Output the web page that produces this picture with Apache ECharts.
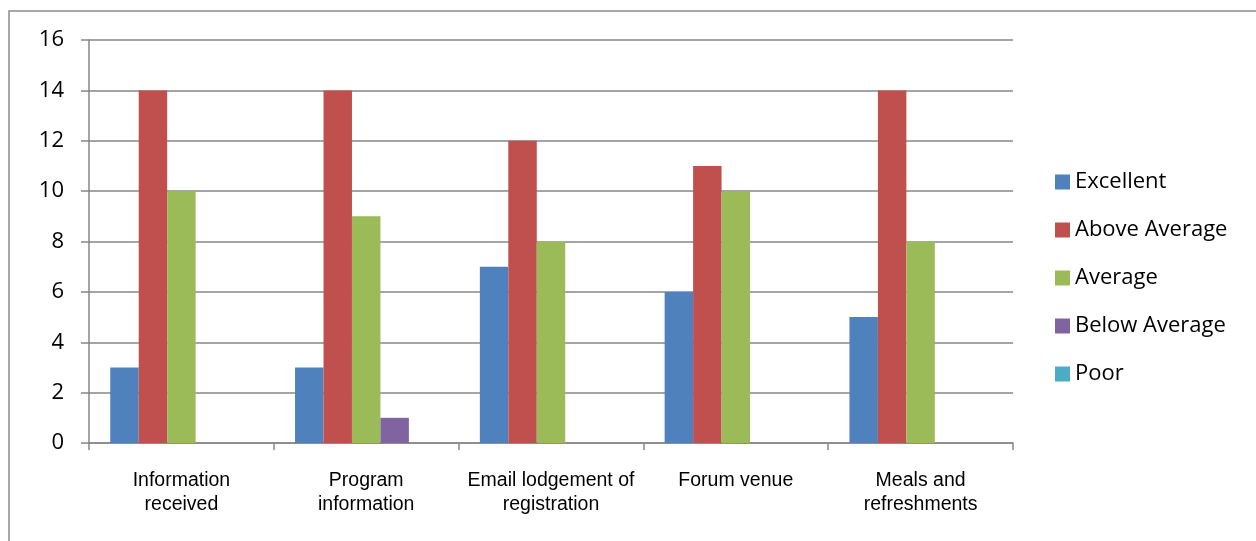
<!DOCTYPE html>
<html>
<head>
<meta charset="utf-8">
<script src="https://cdn.jsdelivr.net/npm/echarts@6/dist/echarts.min.js"></script>
<style>
  html, body { margin: 0; padding: 0; background: #ffffff; }
  #chart { width: 1256px; height: 541px; }
</style>
</head>
<body>
<div id="chart"></div>
<script>
const categories = ['Information\nreceived', 'Program\ninformation', 'Email lodgement of\nregistration', 'Forum venue', 'Meals and\nrefreshments'];
const seriesNames = ['Excellent', 'Above Average', 'Average', 'Below Average', 'Poor'];
const excellent = [3, 3, 7, 6, 5];
const aboveAverage = [14, 14, 12, 11, 14];
const average = [10, 9, 8, 10, 8];
const belowAverage = [0, 1, 0, 0, 0];
const poor = [0, 0, 0, 0, 0];
const yTicks = [0, 2, 4, 6, 8, 10, 12, 14, 16];

const colors = ['#4F81BD', '#C0504D', '#9BBB59', '#8064A2', '#4BACC6'];
const values = [excellent, aboveAverage, average, belowAverage, poor];

const myChart = echarts.init(document.getElementById('chart'));
const option = {
  animation: false,
  color: colors,
  graphic: [{
    type: 'rect',
    shape: { x: 9, y: 11, width: 1400, height: 700 },
    style: { fill: 'none', stroke: '#8c8c8c', lineWidth: 1.5 },
    silent: true
  }],
  grid: { left: 89, top: 40, width: 924, height: 403 },
  legend: {
    orient: 'vertical',
    left: 1055,
    top: 169,
    padding: 0,
    icon: 'rect',
    itemWidth: 15,
    itemHeight: 15,
    itemGap: 22,
    data: seriesNames,
    textStyle: { fontFamily: 'Open Sans', fontSize: 22, color: '#000000', lineHeight: 26 }
  },
  xAxis: {
    type: 'category',
    data: categories,
    axisLine: { lineStyle: { color: '#878787', width: 1.5 } },
    axisTick: { show: true, length: 7, lineStyle: { color: '#878787', width: 1.5 } },
    axisLabel: {
      margin: 26,
      fontFamily: 'Liberation Sans',
      fontSize: 19.5,
      lineHeight: 24,
      color: '#000000',
      interval: 0
    }
  },
  yAxis: {
    type: 'value',
    min: yTicks[0],
    max: yTicks[yTicks.length - 1],
    interval: 2,
    axisLine: { show: true, lineStyle: { color: '#878787', width: 1.5 } },
    axisTick: { show: true, length: 8, lineStyle: { color: '#878787', width: 1.5 } },
    splitLine: { lineStyle: { color: '#878787', width: 1.5 } },
    axisLabel: { margin: 25, fontFamily: 'Open Sans', fontSize: 22, color: '#000000' }
  },
  series: seriesNames.map((name, i) => ({
    name: name,
    type: 'bar',
    data: values[i],
    barGap: '0%',
    barCategoryGap: '23%',
    itemStyle: { color: colors[i] }
  }))
};
myChart.setOption(option, true);
</script>
</body>
</html>
